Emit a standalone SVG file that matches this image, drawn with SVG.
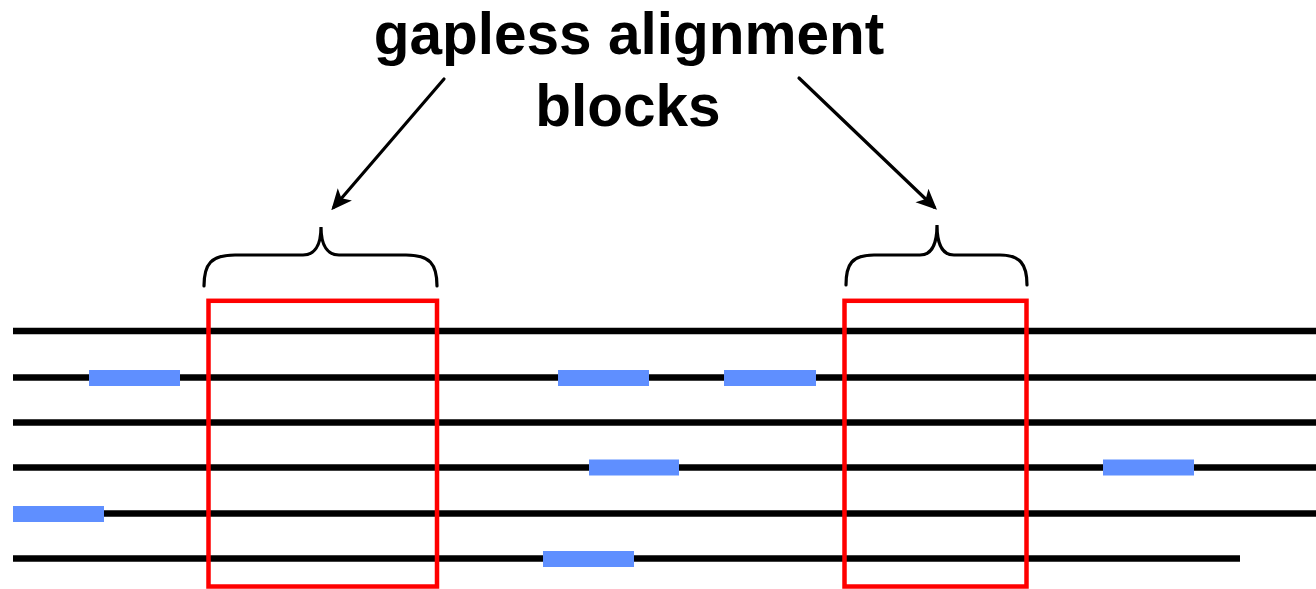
<svg xmlns="http://www.w3.org/2000/svg" width="1316" height="589" viewBox="0 0 1316 589">
  <style>
    .seq { stroke: #000; stroke-width: 6.5; fill: none; }
    .gap { fill: #5F8FFF; }
    .block { fill: none; stroke: #FF0000; stroke-width: 4.5; }
    .brace { fill: none; stroke: #000; stroke-width: 3.2; stroke-linecap: round; }
    .pointer { stroke: #000; stroke-width: 3.2; fill: none; stroke-linecap: round; }
    .title { font-family: "Liberation Sans", Arial, sans-serif; font-weight: bold; font-size: 58.5px; fill: #000; text-anchor: middle; }
  </style>
  <defs>
    <marker id="head" viewBox="0 0 10 10" refX="8" refY="5" markerWidth="6.5" markerHeight="6.5" markerUnits="strokeWidth" orient="auto">
      <path d="M0,0.5 L10,5 L0,9.5 L2.5,5 Z" fill="#000"/>
    </marker>
  </defs>

  <rect width="1316" height="589" fill="#fff"/>

  <!-- label -->
  <g id="label">
    <text class="title" x="629" y="54">gapless alignment</text>
    <text class="title" x="628" y="126">blocks</text>
  </g>

  <!-- aligned sequences -->
  <g id="sequences">
    <line class="seq" x1="13" y1="331" x2="1316" y2="331"/>
    <line class="seq" x1="13" y1="377.5" x2="1316" y2="377.5"/>
    <line class="seq" x1="13" y1="422.5" x2="1316" y2="422.5"/>
    <line class="seq" x1="13" y1="467.5" x2="1316" y2="467.5"/>
    <line class="seq" x1="13" y1="513.5" x2="1316" y2="513.5"/>
    <line class="seq" x1="13" y1="558.5" x2="1240" y2="558.5"/>
  </g>

  <!-- gaps -->
  <g id="gaps">
    <rect class="gap" x="89" y="370" width="91" height="16"/>
    <rect class="gap" x="558" y="370" width="91" height="16"/>
    <rect class="gap" x="724" y="370" width="92" height="16"/>
    <rect class="gap" x="589" y="459.5" width="90" height="16"/>
    <rect class="gap" x="1103" y="459.5" width="91" height="16"/>
    <rect class="gap" x="13" y="506" width="91" height="16"/>
    <rect class="gap" x="543" y="551" width="91" height="16"/>
  </g>

  <!-- gapless blocks -->
  <g id="block-left">
    <rect class="block" x="208.5" y="300.8" width="228.5" height="285.7"/>
    <path class="brace" d="M204,286 C204,264 211,255 235,255 L303,255 C314,255 321,246 321,227 C321,246 328,255 339,255 L406,255 C430,255 437,264 437,286"/>
  </g>
  <g id="block-right">
    <rect class="block" x="844.5" y="300.8" width="182" height="285.7"/>
    <path class="brace" d="M846,285 C846,264 852,255 874,255 L920,255 C931,255 937,245 937,225 C937,245 943,255 954,255 L1000,255 C1020,255 1027,264 1027,285"/>
  </g>

  <!-- pointers -->
  <g id="connectors">
    <line class="pointer" x1="444" y1="79" x2="334" y2="207" marker-end="url(#head)"/>
    <line class="pointer" x1="799" y1="78" x2="934" y2="207" marker-end="url(#head)"/>
  </g>
</svg>
